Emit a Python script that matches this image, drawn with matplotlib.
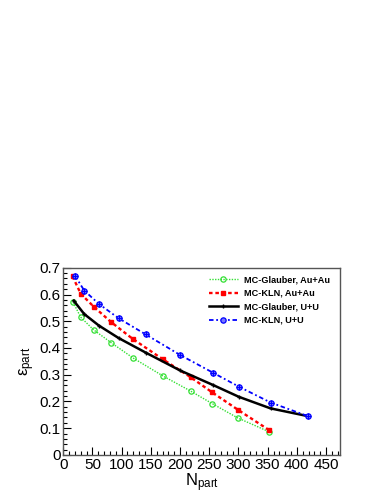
import matplotlib
matplotlib.use("Agg")
import matplotlib.pyplot as plt
import matplotlib.ticker as mticker

plt.rcParams["font.family"] = ["Liberation Sans", "DejaVu Sans"]
plt.rcParams["mathtext.fontset"] = "custom"
plt.rcParams["mathtext.rm"] = "Liberation Sans"
plt.rcParams["mathtext.it"] = "Liberation Sans"

# MC-Glauber, Au+Au
glauber_au_n   = [17, 30, 52, 82, 120, 171, 218, 255, 299, 352]
glauber_au_eps = [0.571, 0.515, 0.468, 0.420, 0.362, 0.295, 0.239, 0.192, 0.138, 0.087]

# MC-KLN, Au+Au
kln_au_n   = [16, 30, 53, 82, 119, 171, 218, 255, 299, 353]
kln_au_eps = [0.668, 0.603, 0.553, 0.497, 0.434, 0.357, 0.291, 0.234, 0.169, 0.092]

# MC-Glauber, U+U
glauber_uu_n   = [18, 36, 61, 95, 141, 200, 256, 301, 355, 419]
glauber_uu_eps = [0.577, 0.527, 0.484, 0.437, 0.383, 0.316, 0.262, 0.217, 0.174, 0.145]

# MC-KLN, U+U
kln_uu_n   = [20, 36, 61, 95, 141, 200, 256, 301, 355, 419]
kln_uu_eps = [0.671, 0.615, 0.565, 0.511, 0.451, 0.374, 0.308, 0.255, 0.196, 0.145]

fig = plt.figure(figsize=(3.83, 4.95), dpi=100)
ax = fig.add_axes([0.165, 0.081, 0.723, 0.378])

ax.plot(glauber_au_n, glauber_au_eps, color="#33e033", linestyle=(0, (1, 1)), linewidth=1.0,
        marker="o", markersize=3.8, markerfacecolor="none", markeredgewidth=0.9,
        label="MC-Glauber, Au+Au")
ax.plot(kln_au_n, kln_au_eps, color="#ff0000", linestyle=(0, (1.5, 1.2)), linewidth=1.7,
        marker="s", markersize=3.5, label="MC-KLN, Au+Au")
ax.plot(glauber_uu_n, glauber_uu_eps, color="black", linestyle="-", linewidth=1.8,
        marker="+", markersize=3.5, markeredgewidth=1.0, label="MC-Glauber, U+U")
ax.plot(kln_uu_n, kln_uu_eps, color="#0000ff", linestyle=(0, (2.5, 1.5, 1, 1.5)), linewidth=1.3,
        marker="o", markersize=3.8, markerfacecolor="#7777ff", markeredgewidth=0.9,
        label="MC-KLN, U+U")
ax.plot(kln_uu_n, kln_uu_eps, color="#0000ff", linestyle="none",
        marker="+", markersize=3.8, markeredgewidth=0.8)

ax.set_xlim(0, 474)
ax.set_ylim(0, 0.7)
ax.xaxis.set_major_locator(mticker.MultipleLocator(50))
ax.xaxis.set_minor_locator(mticker.MultipleLocator(10))
ax.yaxis.set_major_locator(mticker.MultipleLocator(0.1))
ax.yaxis.set_minor_locator(mticker.MultipleLocator(0.02))
ax.yaxis.set_major_formatter(mticker.FuncFormatter(lambda v, _: "0" if abs(v) < 1e-9 else f"{v:.1f}"))
ax.tick_params(which="both", direction="in", top=False, right=False, labelsize=11, pad=2)
ax.tick_params(which="major", length=6, width=0.8)
ax.tick_params(which="minor", length=3, width=0.8)
for spine in ax.spines.values():
    spine.set_linewidth(1.0)
    spine.set_edgecolor("#555555")

ax.set_xlabel(r"N$_{\mathrm{part}}$", fontsize=12, labelpad=0)
ax.set_ylabel(r"$\varepsilon_{\mathrm{part}}$", fontsize=12, labelpad=2)

leg = ax.legend(loc="upper right", bbox_to_anchor=(0.985, 0.99), frameon=False,
                prop={"size": 6.6, "weight": "bold"}, handlelength=3.2,
                handletextpad=0.7, labelspacing=0.5, borderaxespad=0.2)

fig.savefig("out.png", dpi=100)
